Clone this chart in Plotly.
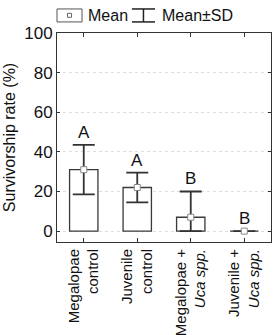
import plotly.graph_objects as go

categories = ["Megalopae<br>control", "Juvenile<br>control", "Megalopae +<br><i>Uca spp.</i>", "Juvenile +<br><i>Uca spp.</i>"]
means = [31, 22, 7, 0]
sd_plus = [12.5, 7.5, 13, 0]
sd_minus = [12.5, 7.5, 7, 0]
letters = ["A", "A", "B", "B"]
y_ticks = [0, 20, 40, 60, 80, 100]

x = list(range(len(categories)))
font = "Liberation Sans, Arial, sans-serif"

fig = go.Figure()
fig.add_trace(go.Bar(
    x=x, y=means, width=0.53,
    marker=dict(color="white", line=dict(color="#3a3a3a", width=1.3)),
    showlegend=False,
))
fig.add_trace(go.Scatter(
    x=x, y=means, mode="markers",
    marker=dict(symbol="square", size=6, color="white", line=dict(color="#888", width=1)),
    error_y=dict(type="data", symmetric=False, array=sd_plus, arrayminus=sd_minus,
                 color="#333", thickness=1.8, width=11),
    showlegend=False,
))
# letters
for xi, m, s, l in zip(x, means, sd_plus, letters):
    fig.add_annotation(x=xi, y=m + s, text=l, showarrow=False, yanchor="bottom", yshift=1,
                       font=dict(size=17, color="#111", family=font))

# legend (custom, paper coords)
shapes = [
    dict(type="rect", xref="paper", yref="paper", x0=0.0, x1=0.117, y0=1.053, y1=1.115,
         line=dict(color="#555", width=1), fillcolor="white"),
    dict(type="rect", xref="paper", yref="paper", x0=0.049, x1=0.068, y0=1.075, y1=1.094,
         line=dict(color="#666", width=1), fillcolor="white"),
    dict(type="line", xref="paper", yref="paper", x0=0.404, x1=0.404, y0=1.053, y1=1.115,
         line=dict(color="#222", width=1.5)),
    dict(type="line", xref="paper", yref="paper", x0=0.35, x1=0.458, y0=1.115, y1=1.115,
         line=dict(color="#222", width=1.5)),
    dict(type="line", xref="paper", yref="paper", x0=0.35, x1=0.458, y0=1.053, y1=1.053,
         line=dict(color="#222", width=1.5)),
]
fig.add_annotation(xref="paper", yref="paper", x=0.145, y=1.084, text="Mean", showarrow=False,
                   xanchor="left", yanchor="middle", xshift=-2, font=dict(size=16, color="#111", family=font))
fig.add_annotation(xref="paper", yref="paper", x=0.49, y=1.084, text="Mean±SD", showarrow=False,
                   xanchor="left", yanchor="middle", xshift=-2, font=dict(size=16, color="#111", family=font))

fig.update_layout(
    width=275, height=335,
    margin=dict(l=57, r=4, t=33, b=93),
    plot_bgcolor="white", paper_bgcolor="white",
    shapes=shapes,
    font=dict(family=font, color="#111"),
    xaxis=dict(range=[-0.5, 3.5], tickvals=x, ticktext=categories, tickangle=-90,
               tickfont=dict(size=15, color="#111"), showgrid=False, zeroline=False,
               showline=True, linecolor="#333", linewidth=1, mirror="ticks",
               ticks="inside", ticklen=4, tickcolor="#333", automargin=False),
    yaxis=dict(range=[-5.5, 100], tickvals=y_ticks, tickfont=dict(size=17, color="#111"),
               title=dict(text="Survivorship rate (%)", font=dict(size=16, color="#111"), standoff=4),
               showgrid=True, gridcolor="#ddd", griddash="dot", gridwidth=1, zeroline=False,
               showline=True, linecolor="#333", linewidth=1, mirror="ticks",
               ticks="inside", ticklen=3, tickcolor="#333", automargin=False),
)

fig.write_html("out.html")
